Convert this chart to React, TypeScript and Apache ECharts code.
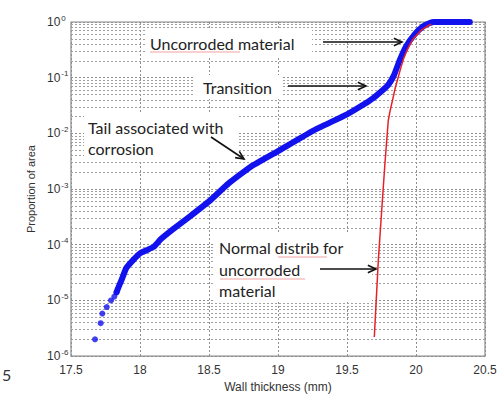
import React, { useEffect, useRef } from "react";
import * as echarts from "echarts";

// Blue empirical data: sparse tail points (individual dots)
const tailX = [17.674, 17.715, 17.727, 17.759, 17.79, 17.814, 17.83];
const tailY = [2.0e-6, 3.9e-6, 5.8e-6, 7.6e-6, 1.0e-5, 1.17e-5, 1.4e-5];

// Blue empirical data: dense part (thick band)
const mainX = [17.83, 17.843, 17.867, 17.9, 17.95, 18.0, 18.05, 18.1, 18.15, 18.24, 18.36, 18.5, 18.64, 18.8, 19.0, 19.25, 19.5, 19.62, 19.69, 19.76, 19.8, 19.84, 19.88, 19.93, 19.99, 20.05, 20.1, 20.13, 20.25, 20.39];
const mainY = [1.4e-5, 1.7e-5, 2.35e-5, 3.8e-5, 5.3e-5, 7.0e-5, 8.0e-5, 9.2e-5, 1.25e-4, 1.9e-4, 3.2e-4, 6.0e-4, 1.25e-3, 2.5e-3, 4.8e-3, 0.011, 0.022, 0.033, 0.043, 0.06, 0.075, 0.11, 0.2, 0.37, 0.6, 0.83, 0.96, 1.0, 1.0, 1.0];

// Red normal distribution fit
const normX = [19.698, 19.727, 19.751, 19.775, 19.799, 19.812, 19.836, 19.85, 19.87, 19.89, 19.91, 19.93, 19.957, 19.98, 20.017, 20.04, 20.077, 20.095, 20.11];
const normY = [2.2e-6, 5.3e-5, 4e-4, 2.9e-3, 0.017, 0.025, 0.046, 0.066, 0.1, 0.15, 0.22, 0.29, 0.4, 0.5, 0.63, 0.72, 0.83, 0.88, 0.91];

// Axis ticks
const xTicks = [17.5, 18, 18.5, 19, 19.5, 20, 20.5];
const yDecades = [-6, -5, -4, -3, -2, -1, 0];
const minorMult = [2, 3, 4, 5, 6, 7, 8, 9];

const zip = (xs: number[], ys: number[]) => xs.map((x, i) => [x, ys[i]]);

const FONT = "Lato, 'Open Sans', sans-serif";
const AX_FONT = "Arial, 'Liberation Sans', sans-serif";
const BLUE = "#1212ee";

function arrow(x1: number, y1: number, x2: number, y2: number) {
  const ang = Math.atan2(y2 - y1, x2 - x1);
  const L = 9;
  const a = (25 * Math.PI) / 180;
  const p1 = [x2 - L * Math.cos(ang - a), y2 - L * Math.sin(ang - a)];
  const p2 = [x2 - L * Math.cos(ang + a), y2 - L * Math.sin(ang + a)];
  return [
    { type: "line", z: 5, shape: { x1, y1, x2, y2 }, style: { stroke: "#111", lineWidth: 1.6 } },
    { type: "polyline", z: 5, shape: { points: [p1, [x2, y2], p2] }, style: { stroke: "#111", lineWidth: 1.6, fill: null } },
  ];
}

function box(x1: number, y1: number, x2: number, y2: number) {
  return { type: "rect", z: 1, shape: { x: x1, y: y1, width: x2 - x1, height: y2 - y1 }, style: { fill: "#fff" } };
}

function label(text: string, x: number, y: number) {
  return {
    type: "text",
    z: 5,
    x,
    y,
    style: { text, font: `16px ${FONT}`, fill: "#222", textVerticalAlign: "middle", textAlign: "left" },
  };
}

function squiggle(x1: number, x2: number, y: number) {
  return { type: "line", z: 5, shape: { x1, y1: y, x2, y2: y }, style: { stroke: "#f08a8a", lineWidth: 1, opacity: 0.8 } };
}

export default function App() {
  const ref = useRef<HTMLDivElement>(null);
  useEffect(() => {
    if (!ref.current) return;
    const chart = echarts.init(ref.current, undefined, { renderer: "svg" });
    const minorLines: any[] = [];
    yDecades.slice(0, -1).forEach((d) => {
      minorMult.forEach((m) => minorLines.push({ yAxis: m * Math.pow(10, d) }));
    });
    const option: any = {
      animation: false,
      backgroundColor: "#fff",
      grid: { left: 71, right: 15, top: 22, bottom: 33, show: true, borderColor: "#8a8a8a", borderWidth: 1.2 },
      xAxis: {
        type: "value",
        min: 17.5,
        max: 20.5,
        interval: 0.5,
        z: 0,
        name: "Wall thickness (mm)",
        nameLocation: "middle",
        nameGap: 23,
        nameTextStyle: { fontFamily: AX_FONT, fontSize: 12, color: "#333" },
        axisLine: { show: false },
        axisTick: { show: false },
        axisLabel: {
          margin: 8,
          fontFamily: AX_FONT,
          fontSize: 12,
          color: "#333",
          formatter: (v: number) => (xTicks.includes(v) ? String(v) : ""),
        },
        splitLine: { show: true, lineStyle: { color: "#8f8f8f", type: [2, 2], width: 1 } },
      },
      yAxis: {
        type: "log",
        logBase: 10,
        min: 1e-6,
        max: 1,
        z: 0,
        name: "Proportion of area",
        nameLocation: "middle",
        nameGap: 33,
        nameTextStyle: { fontFamily: AX_FONT, fontSize: 11, color: "#333" },
        axisLine: { show: false },
        axisTick: { show: false },
        axisLabel: {
          align: "left",
          margin: 24,
          formatter: (v: number) => `{b|10}{s|${Math.round(Math.log10(v))}}`,
          rich: {
            b: { fontFamily: AX_FONT, fontSize: 12, color: "#333" },
            s: { fontFamily: AX_FONT, fontSize: 8, color: "#333", padding: [0, 0, 8, 1] },
          },
        },
        splitLine: { show: true, lineStyle: { color: "#8f8f8f", type: [2, 2], width: 1 } },
      },
      series: [
        {
          name: "minorGrid",
          type: "line",
          data: [],
          z: 0,
          silent: true,
          markLine: {
            z: 0,
            silent: true,
            precision: 12,
            symbol: "none",
            label: { show: false },
            lineStyle: { color: "#a0a0a0", type: [2, 2], width: 1 },
            data: minorLines,
          },
        },
        {
          name: "tail",
          type: "scatter",
          data: zip(tailX, tailY),
          symbol: "circle",
          symbolSize: 6,
          itemStyle: { color: BLUE },
          z: 3,
        },
        {
          name: "empirical",
          type: "line",
          data: zip(mainX, mainY),
          showSymbol: false,
          smooth: 0.12,
          lineStyle: { color: BLUE, width: 6, cap: "round", join: "round" },
          z: 3,
        },
        {
          name: "normal",
          type: "line",
          data: zip(normX, normY),
          showSymbol: false,
          lineStyle: { color: "#e8202a", width: 1.5 },
          z: 4,
        },
      ],
      graphic: {
        elements: [
          box(145, 30, 312, 57),
          box(193, 75, 281, 99),
          box(84, 113, 238, 160),
          box(213, 234, 372, 302),
          label("Uncorroded material", 150, 43),
          squiggle(150, 240, 52),
          ...arrow(323, 42, 402, 42),
          label("Transition", 203, 87),
          ...arrow(288, 86, 366, 86),
          label("Tail associated with", 88, 127),
          label("corrosion", 88, 148),
          ...arrow(211, 137, 244, 159),
          label("Normal distrib for", 219, 247),
          squiggle(278, 327, 257),
          label("uncorroded", 219, 269),
          squiggle(220, 305, 279),
          label("material", 219, 290),
          ...arrow(320, 269, 376, 269),
          {
            type: "text",
            x: 2,
            y: 374,
            style: { text: "5", font: `16px ${FONT}`, fill: "#333", textVerticalAlign: "middle" },
          },
        ],
      },
    };
    chart.setOption(option);
    return () => chart.dispose();
  }, []);
  return <div ref={ref} style={{ position: "absolute", left: 0, top: 0, width: 500, height: 398 }} />;
}
